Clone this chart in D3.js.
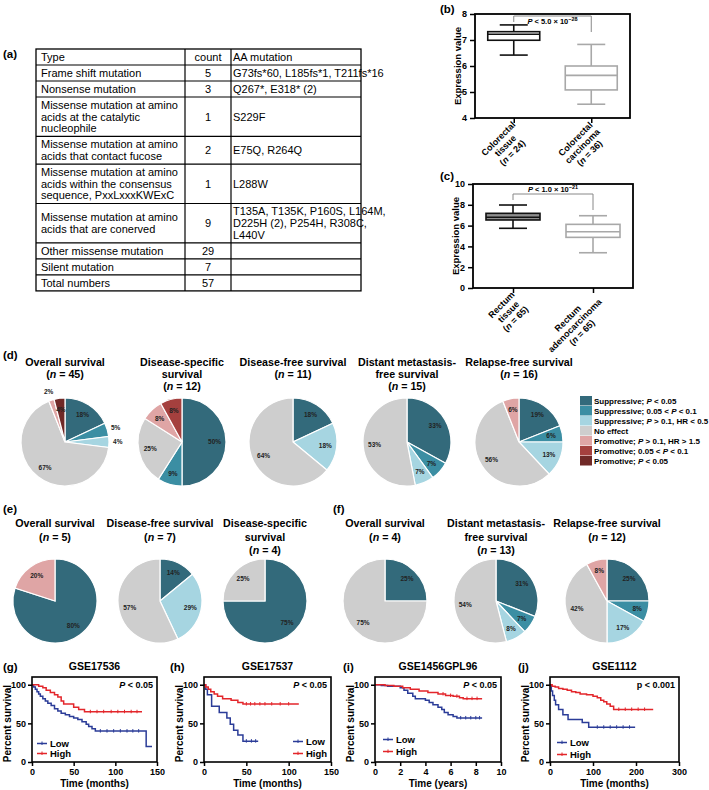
<!DOCTYPE html>
<html>
<head>
<meta charset="utf-8">
<script src="https://cdn.jsdelivr.net/npm/d3@7"></script>
<style>
body { margin: 0; background: #fff; }
svg { font-family: "Liberation Sans", Arial, Helvetica, sans-serif; }
</style>
</head>
<body>
<svg id="fig" width="709" height="790"></svg>
<script>
// ---------- data ----------
// (a) mutation table
const tableTypes = [["Type"], ["Frame shift mutation"], ["Nonsense mutation"],
  ["Missense mutation at amino", "acids at the catalytic", "nucleophile"],
  ["Missense mutation at amino", "acids that contact fucose"],
  ["Missense mutation at amino", "acids within the consensus", "sequence, PxxLxxxKWExC"],
  ["Missense mutation at amino", "acids that are conerved"],
  ["Other missense mutation"], ["Silent mutation"], ["Total numbers"]];
const tableCounts = ["count", "5", "3", "1", "2", "1", "9", "29", "7", "57"];
const tableAA = [["AA mutation"], ["G73fs*60, L185fs*1, T211fs*16"], ["Q267*, E318* (2)"], ["S229F"],
  ["E75Q, R264Q"], ["L288W"], ["T135A, T135K, P160S, L164M,", "D225H (2), P254H, R308C,", "L440V"],
  [""], [""], [""]];

// (b), (c) box plots: [min, q1, median, q3, max]
const boxBGroups = [["Colorectal", "tissue", "(n = 24)"], ["Colorectal", "carcinoma", "(n = 36)"]];
const boxBStats = [[6.42, 6.99, 7.22, 7.32, 7.58], [4.53, 5.08, 5.64, 6.0, 6.83]];
const boxBTicks = [4, 5, 6, 7, 8];
const boxCGroups = [["Rectum", "tissue", "(n = 65)"], ["Rectum", "adenocarcinoma", "(n = 65)"]];
const boxCStats = [[5.74, 6.54, 6.8, 7.18, 7.98], [3.39, 4.87, 5.41, 6.12, 6.95]];
const boxCTicks = [0, 2, 4, 6, 8, 10];

// (d)-(f) pies, percent per category (legend order)
const pieCategories = ["Suppressive; P < 0.05", "Suppressive; 0.05 < P < 0.1", "Suppressive; P > 0.1, HR < 0.5",
  "No effect", "Promotive; P > 0.1, HR > 1.5", "Promotive; 0.05 < P < 0.1", "Promotive; P < 0.05"];
const pieDTitles = [["Overall survival", "(n = 45)"], ["Disease-specific", "survival", "(n = 12)"],
  ["Disease-free survival", "(n = 11)"], ["Distant metastasis-", "free survival", "(n = 15)"],
  ["Relapse-free survival", "(n = 16)"]];
const pieDValues = [[18, 5, 4, 67, 2, 0, 4], [50, 9, 0, 25, 8, 8, 0], [18, 0, 18, 64, 0, 0, 0],
  [33, 7, 7, 53, 0, 0, 0], [19, 6, 13, 56, 6, 0, 0]];
const pieETitles = [["Overall survival", "(n = 5)"], ["Disease-free survival", "(n = 7)"],
  ["Disease-specific", "survival", "(n = 4)"]];
const pieEValues = [[80, 0, 0, 0, 20, 0, 0], [14, 0, 29, 57, 0, 0, 0], [75, 0, 0, 25, 0, 0, 0]];
const pieFTitles = [["Overall survival", "(n = 4)"], ["Distant metastasis-", "free survival", "(n = 13)"],
  ["Relapse-free survival", "(n = 12)"]];
const pieFValues = [[25, 0, 0, 75, 0, 0, 0], [31, 7, 8, 54, 0, 0, 0], [25, 8, 17, 42, 8, 0, 0]];

// (g)-(j) Kaplan-Meier curves: [time, percent survival]
const gLow = [[0,100],[2,97],[4,94],[6,91],[8,88],[10,85],[13,82],[16,79],[19,76],[23,73],[27,69],[31,66],
  [35,63],[40,61],[45,59],[50,57],[55,55],[60,52],[65,49],[68,46],[72,43],[76,40],[137,40],[137,20],[144,20]];
const gHigh = [[0,100],[8,98],[13,96],[17,93],[22,90],[27,87],[31,84],[35,79],[38,75],[50,71],[56,68],[63,65],[132,65]];
const gLowCens = [82, 90, 98, 106, 114, 121, 128];
const gHighCens = [70, 78, 86, 95, 103, 111, 119, 126];
const hLow = [[0,100],[2,94],[4,87],[9,72],[18,64],[27,57],[31,49],[35,41],[40,35],[46,27],[64,27]];
const hHigh = [[0,100],[2,97],[5,94],[8,91],[12,88],[16,85],[22,82],[32,80],[40,77],[46,75],[112,75]];
const hLowCens = [50, 56, 61];
const hHighCens = [50, 55, 60, 66, 72, 80, 90, 100];
const iLow = [[0,100],[0.5,99],[1,98],[2,96],[2.3,93],[2.6,89],[3,85],[3.2,82],[4,80],[4.3,77],[4.6,74],[5,71],
  [5.3,68],[5.5,64],[5.8,61],[6.2,59],[6.5,57],[8.5,57]];
const iHigh = [[0,100],[0.8,99],[1.5,98],[2.2,96],[2.8,94],[3.5,92],[4.2,90],[5,88],[5.6,86],[6.2,85],[6.7,83],[7,82],[8.5,82]];
const iLowCens = [6.8, 7.2, 7.6, 8.0, 8.3];
const iHighCens = [5.4, 6.0, 6.5, 7.3, 7.7, 8.1];
const jLow = [[0,100],[3,92],[6,86],[10,80],[13,74],[20,68],[30,61],[42,55],[75,51],[90,45],[198,45]];
const jHigh = [[0,100],[5,98],[12,97],[20,95],[30,94],[40,93],[50,91],[60,90],[70,88],[85,87],[100,85],[110,83],
  [118,80],[125,78],[132,75],[140,72],[148,68],[240,68]];
const jLowCens = [110, 125, 140, 155, 170, 185];
const jHighCens = [160, 175, 190, 205, 220];
const monthTicks150 = [0, 50, 100, 150];
const yearTicks = [0, 2, 4, 6, 8, 10];
const monthTicks300 = [0, 100, 200, 300];
const survTicks = [0, 50, 100];

// ---------- drawing ----------
const svg = d3.select("#fig");
svg.append("rect").attr("width", 709).attr("height", 790).attr("fill", "#fff");

const pieColors = ["#336a7b", "#3b8ea3", "#a6d5e1", "#cecece", "#dfa5a5", "#a5403e", "#702927"];

// italic P and n inside labels
function rich(sel, str) {
  str.split(/(\bP\b|\bn\b)/).forEach(part => {
    if (!part) return;
    const t = sel.append("tspan").text(part);
    if (part === "P" || part === "n") t.attr("font-style", "italic");
  });
}

function panelLabel(txt, x, y) {
  svg.append("text").attr("x", x).attr("y", y)
    .attr("font-size", 11.5).attr("font-weight", "bold").text(txt);
}

// ----- (a) table -----
panelLabel("(a)", 3, 58);
const tbl = svg.append("g");
const colX = [36, 185, 231, 361];
const lineH = 11.7;
let rowTop = 49;
const rows = [];
tableTypes.forEach((t, i) => {
  const n = Math.max(t.length, tableAA[i].length);
  const h = n * lineH + 4.3;
  rows.push({ top: rowTop, h: h });
  rowTop += h;
});

function cellText(lines, x, anchor, top, h) {
  const y0 = top + h / 2 - (lines.length - 1) * lineH / 2 + 3.9;
  lines.forEach((s, i) => {
    tbl.append("text").attr("x", x).attr("y", y0 + i * lineH)
      .attr("text-anchor", anchor).attr("font-size", 11).text(s);
  });
}

rows.forEach((r, i) => {
  cellText(tableTypes[i], colX[0] + 5, "start", r.top, r.h);
  cellText([tableCounts[i]], (colX[1] + colX[2]) / 2, "middle", r.top, r.h);
  cellText(tableAA[i], colX[2] + 2, "start", r.top, r.h);
  if (i > 0) {
    tbl.append("line").attr("x1", colX[0]).attr("x2", colX[3]).attr("y1", r.top).attr("y2", r.top)
      .attr("stroke", "#000").attr("stroke-width", 1.2);
  }
});
tbl.append("rect").attr("x", colX[0]).attr("y", 49).attr("width", colX[3] - colX[0]).attr("height", rowTop - 49)
  .attr("fill", "none").attr("stroke", "#000").attr("stroke-width", 1.3);
[colX[1], colX[2]].forEach(x => {
  tbl.append("line").attr("x1", x).attr("x2", x).attr("y1", 49).attr("y2", rowTop)
    .attr("stroke", "#000").attr("stroke-width", 1.2);
});

// ----- (b), (c) box plots -----
function drawBox(o) {
  const g = svg.append("g");
  const x = d3.scalePoint().domain(d3.range(o.stats.length)).range([o.left, o.right]).padding(0.5);
  const y = d3.scaleLinear().domain(o.domain).range([o.bottom, o.top]);

  g.append("g").attr("transform", `translate(${o.left},0)`)
    .call(d3.axisLeft(y).tickValues(o.ticks).tickSize(5).tickFormat(d3.format("d")))
    .call(a => a.select(".domain").remove())
    .call(a => a.selectAll("line").attr("stroke-width", 1.5))
    .call(a => a.selectAll("text").attr("font-family", "inherit").attr("font-size", 9)
      .attr("font-weight", "bold").attr("fill", "#000"));
  g.append("g").attr("transform", `translate(0,${o.bottom})`)
    .call(d3.axisBottom(x).tickSize(5).tickFormat(""))
    .call(a => a.select(".domain").remove())
    .call(a => a.selectAll("line").attr("stroke-width", 1.5));

  o.stats.forEach((s, i) => {
    const cx = x(i), st = o.styles[i];
    const bg = g.append("g").attr("stroke", st.stroke).attr("stroke-width", 1.6).attr("fill", "none");
    bg.append("line").attr("x1", cx).attr("x2", cx).attr("y1", y(s[0])).attr("y2", y(s[1]));
    bg.append("line").attr("x1", cx).attr("x2", cx).attr("y1", y(s[3])).attr("y2", y(s[4]));
    [s[0], s[4]].forEach(v => bg.append("line").attr("x1", cx - o.cap / 2).attr("x2", cx + o.cap / 2)
      .attr("y1", y(v)).attr("y2", y(v)));
    bg.append("rect").attr("x", cx - o.boxW / 2).attr("width", o.boxW)
      .attr("y", y(s[3])).attr("height", y(s[1]) - y(s[3])).attr("fill", st.fill);
    bg.append("line").attr("x1", cx - o.boxW / 2).attr("x2", cx + o.boxW / 2)
      .attr("y1", y(s[2])).attr("y2", y(s[2]));

    const lg = g.append("g").attr("transform", `translate(${cx + 1},${o.bottom + 6}) rotate(-45)`);
    const texts = lg.selectAll("text").data(o.groups[i]).join("text")
      .attr("y", (d, j) => j * 10).attr("dy", "0.2em")
      .attr("text-anchor", "middle").attr("font-size", 9).attr("font-weight", "bold");
    texts.each(function (d) { rich(d3.select(this), d); });
    let maxW = 0;
    texts.each(function () { maxW = Math.max(maxW, this.getComputedTextLength()); });
    texts.attr("x", -maxW / 2);
  });

  g.append("rect").attr("x", o.left).attr("y", o.top).attr("width", o.right - o.left)
    .attr("height", o.bottom - o.top).attr("fill", "none").attr("stroke", "#000").attr("stroke-width", 1.8);

  // significance bracket
  const x0 = x(0), x1 = x(1), by = o.top + o.bracketTop;
  g.append("path").attr("d", `M${x0},${by + o.legL}V${by}H${x1}V${by + o.legR}`)
    .attr("fill", "none").attr("stroke", "#888").attr("stroke-width", 1);
  const pt = g.append("text").attr("x", (x0 + x1) / 2).attr("y", o.pY).attr("text-anchor", "middle")
    .attr("font-size", 7.5).attr("font-weight", "bold");
  pt.append("tspan").attr("font-style", "italic").text("P");
  pt.append("tspan").text(o.pText);
  pt.append("tspan").attr("dy", -3).attr("font-size", 5.5).text(o.pExp);

  g.append("text").attr("transform", `translate(${o.left - 14},${(o.top + o.bottom) / 2}) rotate(-90)`)
    .attr("text-anchor", "middle").attr("font-size", 9.5).attr("font-weight", "bold").text("Expression value");
}

panelLabel("(b)", 440, 13);
drawBox({ left: 475, right: 630, top: 14, bottom: 118, domain: [4, 8], ticks: boxBTicks,
  stats: boxBStats, groups: boxBGroups, boxW: 52, cap: 28,
  styles: [{ stroke: "#111", fill: "#fff" }, { stroke: "#a8a8a8", fill: "#fff" }],
  bracketTop: 2, legL: 6, legR: 16, pY: 24, pText: " < 5.0 × 10", pExp: "−28" });

panelLabel("(c)", 440, 180);
drawBox({ left: 473, right: 633, top: 184, bottom: 288, domain: [0, 10], ticks: boxCTicks,
  stats: boxCStats, groups: boxCGroups, boxW: 54, cap: 28,
  styles: [{ stroke: "#111", fill: "#8e8e8e" }, { stroke: "#a8a8a8", fill: "#fff" }],
  bracketTop: 10, legL: 6, legR: 16, pY: 192, pText: " < 1.0 × 10", pExp: "−21" });

// ----- (d)-(f) pies -----
function drawPie(cx, cy, r, values, titleLines, titleY, gap) {
  const g = svg.append("g").attr("transform", `translate(${cx},${cy})`);
  const arcs = d3.pie().sort(null).value(d => d)(values).filter(a => a.data > 0);
  const arc = d3.arc().innerRadius(0).outerRadius(r);
  g.selectAll("path").data(arcs).join("path")
    .attr("d", arc).attr("fill", a => pieColors[a.index])
    .attr("stroke", "#fff").attr("stroke-width", 1.2);
  const inner = d3.arc().innerRadius(r * 0.74).outerRadius(r * 0.74);
  const outer = d3.arc().innerRadius(r * 1.2).outerRadius(r * 1.2);
  g.selectAll("text.pct").data(arcs).join("text").attr("class", "pct")
    .attr("transform", a => `translate(${(a.data <= 5 && a.index < 6 ? outer : inner).centroid(a)})`)
    .attr("text-anchor", "middle").attr("dy", "0.35em")
    .attr("font-size", 6.5).attr("font-weight", "bold").attr("fill", "#222")
    .text(a => a.data + "%");
  titleLines.forEach((s, i) => {
    const t = svg.append("text").attr("x", cx).attr("y", titleY + i * gap)
      .attr("text-anchor", "middle").attr("font-size", 10.7).attr("font-weight", "bold");
    rich(t, s);
  });
}

panelLabel("(d)", 3, 359);
[65, 182, 293, 407, 519].forEach((cx, i) => drawPie(cx, 442, 44, pieDValues[i], pieDTitles[i], 366, 12));
panelLabel("(e)", 3, 513);
[55, 160, 265].forEach((cx, i) => drawPie(cx, 601, 42, pieEValues[i], pieETitles[i], 527, 13.5));
panelLabel("(f)", 333, 513);
[385, 496, 607].forEach((cx, i) => drawPie(cx, 601, 42, pieFValues[i], pieFTitles[i], 527, 13.5));

// pie legend
const leg = svg.append("g").attr("transform", "translate(580,396)");
pieCategories.forEach((c, i) => {
  leg.append("rect").attr("x", 0).attr("y", i * 10).attr("width", 12).attr("height", 9.5).attr("fill", pieColors[i]);
  const t = leg.append("text").attr("x", 14).attr("y", i * 10 + 7.6)
    .attr("font-size", 8).attr("font-weight", "bold");
  rich(t, c);
});

// ----- (g)-(j) Kaplan-Meier -----
const lowColor = "#2b3c98", highColor = "#e3262b";

function survAt(curve, t) {
  let s = curve[0][1];
  curve.forEach(p => { if (p[0] <= t) s = p[1]; });
  return s;
}

function drawKM(o) {
  const top = 677, bottom = 762;
  const g = svg.append("g");
  const x = d3.scaleLinear().domain(o.xDomain).range([o.left, o.right]);
  const y = d3.scaleLinear().domain([0, 110]).range([bottom, top]);

  g.append("g").attr("transform", `translate(${o.left},0)`)
    .call(d3.axisLeft(y).tickValues(survTicks).tickSize(4).tickPadding(2))
    .call(a => a.select(".domain").remove())
    .call(a => a.selectAll("line").attr("stroke-width", 1.5))
    .call(a => a.selectAll("text").attr("font-family", "inherit").attr("font-size", 9)
      .attr("font-weight", "bold").attr("fill", "#000"));
  g.append("g").attr("transform", `translate(0,${bottom})`)
    .call(d3.axisBottom(x).tickValues(o.xTicks).tickSize(4))
    .call(a => a.select(".domain").remove())
    .call(a => a.selectAll("line").attr("stroke-width", 1.5))
    .call(a => a.selectAll("text").attr("font-family", "inherit").attr("font-size", 9)
      .attr("font-weight", "bold").attr("fill", "#000"));

  const line = d3.line().curve(d3.curveStepAfter).x(d => x(d[0])).y(d => y(d[1]));
  [[o.low, o.lowC, lowColor], [o.high, o.highC, highColor]].forEach(([curve, cens, col]) => {
    g.append("path").attr("d", line(curve)).attr("fill", "none")
      .attr("stroke", col).attr("stroke-width", 1.5);
    g.selectAll(null).data(cens).join("line")
      .attr("x1", d => x(d)).attr("x2", d => x(d))
      .attr("y1", d => y(survAt(curve, d)) - 2).attr("y2", d => y(survAt(curve, d)) + 1.5)
      .attr("stroke", col).attr("stroke-width", 1);
  });

  g.append("rect").attr("x", o.left).attr("y", top).attr("width", o.right - o.left)
    .attr("height", bottom - top).attr("fill", "none").attr("stroke", "#000").attr("stroke-width", 1.6);

  const cx = (o.left + o.right) / 2;
  g.append("text").attr("x", cx).attr("y", 670).attr("text-anchor", "middle")
    .attr("font-size", 10.5).attr("font-weight", "bold").text(o.title);
  g.append("text").attr("x", cx).attr("y", 787).attr("text-anchor", "middle")
    .attr("font-size", 10).attr("font-weight", "bold").text(o.xLabel);
  g.append("text").attr("transform", `translate(${o.left - 21},${(top + bottom) / 2 + 4}) rotate(-90)`)
    .attr("text-anchor", "middle").attr("font-size", 10).attr("font-weight", "bold").text("Percent survival");
  const pt = g.append("text").attr("x", o.right - 4).attr("y", 688).attr("text-anchor", "end")
    .attr("font-size", 9).attr("font-weight", "bold");
  if (o.italicP) rich(pt, o.pText); else pt.text(o.pText);

  [["Low", lowColor, o.legY[0] - 0.5], ["High", highColor, o.legY[1] + 0.5]].forEach(([name, col, ly]) => {
    const lx = o.left + o.legX;
    g.append("line").attr("x1", lx).attr("x2", lx + 10).attr("y1", ly).attr("y2", ly)
      .attr("stroke", col).attr("stroke-width", 1.5);
    g.append("line").attr("x1", lx + 5).attr("x2", lx + 5).attr("y1", ly - 2).attr("y2", ly + 1.5)
      .attr("stroke", col).attr("stroke-width", 1);
    g.append("text").attr("x", lx + 13).attr("y", ly + 3.4)
      .attr("font-size", 9.5).attr("font-weight", "bold").text(name);
  });
}

panelLabel("(g)", 3, 671);
drawKM({ left: 32, right: 157, xDomain: [0, 150], xTicks: monthTicks150, title: "GSE17536",
  xLabel: "Time (months)", pText: "P < 0.05", italicP: true, low: gLow, high: gHigh,
  lowC: gLowCens, highC: gHighCens, legX: 5, legY: [744, 753] });
panelLabel("(h)", 170, 671);
drawKM({ left: 204, right: 331, xDomain: [0, 150], xTicks: monthTicks150, title: "GSE17537",
  xLabel: "Time (months)", pText: "P < 0.05", italicP: true, low: hLow, high: hHigh,
  lowC: hLowCens, highC: hHighCens, legX: 89, legY: [742, 753] });
panelLabel("(i)", 343, 671);
drawKM({ left: 375, right: 501, xDomain: [0, 10], xTicks: yearTicks, title: "GSE1456GPL96",
  xLabel: "Time (years)", pText: "P < 0.05", italicP: true, low: iLow, high: iHigh,
  lowC: iLowCens, highC: iHighCens, legX: 8, legY: [740, 751] });
panelLabel("(j)", 518, 671);
drawKM({ left: 550, right: 679, xDomain: [0, 300], xTicks: monthTicks300, title: "GSE1112",
  xLabel: "Time (months)", pText: "p < 0.001", italicP: false, low: jLow, high: jHigh,
  lowC: jLowCens, highC: jHighCens, legX: 7, legY: [743, 754] });
</script>
</body>
</html>
